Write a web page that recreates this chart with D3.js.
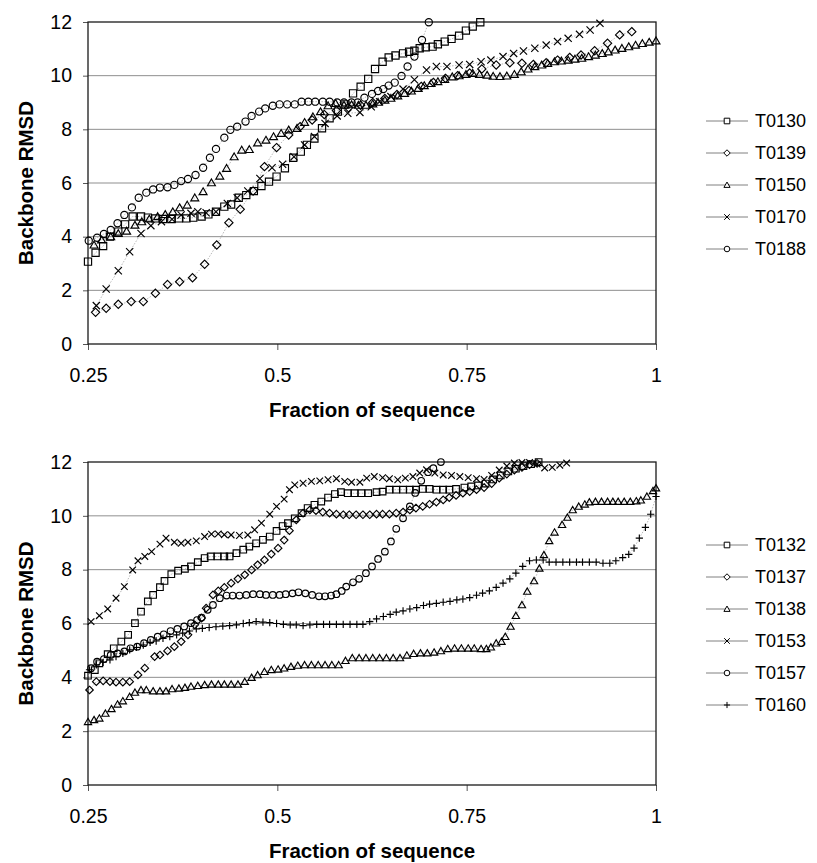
<!DOCTYPE html>
<html lang="en">
<head>
<meta charset="utf-8">
<title>Backbone RMSD</title>
<script src="https://cdn.jsdelivr.net/npm/d3@7"></script>
<style>
  html, body { margin: 0; padding: 0; background: #fff; }
  svg { display: block; font-family: "Liberation Sans", Arial, sans-serif; }
</style>
</head>
<body>
<script>
// tick values
const xTicks = [0.25, 0.5, 0.75, 1];
const xTickLabels = ["0.25", "0.5", "0.75", "1"];
const yTicks = [0, 2, 4, 6, 8, 10, 12];

// ---- top panel series: [fraction of sequence, backbone RMSD]
const t0130 = [[0.250,3.07],[0.260,3.40],[0.270,3.65],[0.279,4.00],[0.290,4.19],[0.299,4.46],[0.309,4.75],[0.320,4.75],[0.329,4.71],[0.339,4.68],[0.349,4.66],[0.360,4.66],[0.370,4.68],[0.380,4.68],[0.389,4.71],[0.400,4.75],[0.409,4.83],[0.419,4.93],[0.430,5.12],[0.439,5.20],[0.449,5.45],[0.459,5.55],[0.469,5.70],[0.479,5.89],[0.489,6.05],[0.499,6.24],[0.510,6.55],[0.521,6.94],[0.531,7.17],[0.539,7.42],[0.549,7.66],[0.559,8.04],[0.569,8.41],[0.580,8.66],[0.590,8.93],[0.600,9.34],[0.610,9.59],[0.620,9.88],[0.629,10.25],[0.639,10.52],[0.647,10.68],[0.656,10.75],[0.666,10.83],[0.674,10.89],[0.681,10.93],[0.688,11.02],[0.696,11.06],[0.705,11.08],[0.712,11.17],[0.721,11.27],[0.730,11.37],[0.740,11.49],[0.749,11.68],[0.758,11.83],[0.768,11.99]];
const t0139 = [[0.260,1.18],[0.274,1.33],[0.290,1.48],[0.307,1.58],[0.323,1.58],[0.339,1.89],[0.355,2.22],[0.371,2.32],[0.388,2.47],[0.404,2.97],[0.420,3.69],[0.436,4.52],[0.451,5.02],[0.468,5.70],[0.483,6.61],[0.499,7.32],[0.515,7.79],[0.530,8.10],[0.546,8.35],[0.562,8.55],[0.578,8.70],[0.594,8.80],[0.610,8.90],[0.626,9.00],[0.642,9.15],[0.658,9.30],[0.674,9.45],[0.690,9.60],[0.706,9.75],[0.722,9.90],[0.738,10.00],[0.754,10.10],[0.770,10.25],[0.789,10.40],[0.807,10.48],[0.823,10.46],[0.838,10.42],[0.855,10.48],[0.870,10.58],[0.886,10.68],[0.901,10.77],[0.919,10.93],[0.936,11.21],[0.952,11.52],[0.968,11.64]];
const t0150 = [[0.258,3.69],[0.268,3.88],[0.280,4.00],[0.290,4.12],[0.301,4.21],[0.312,4.43],[0.321,4.56],[0.331,4.66],[0.342,4.75],[0.352,4.83],[0.362,4.93],[0.371,5.08],[0.381,5.18],[0.391,5.45],[0.402,5.68],[0.413,6.01],[0.424,6.26],[0.433,6.55],[0.443,6.98],[0.453,7.23],[0.463,7.25],[0.474,7.50],[0.485,7.60],[0.495,7.73],[0.505,7.85],[0.515,7.98],[0.526,8.04],[0.536,8.26],[0.547,8.47],[0.557,8.66],[0.567,8.88],[0.577,8.97],[0.588,8.90],[0.598,8.92],[0.607,8.90],[0.617,8.90],[0.626,8.95],[0.633,9.01],[0.642,9.09],[0.650,9.16],[0.659,9.25],[0.668,9.34],[0.677,9.43],[0.686,9.53],[0.694,9.63],[0.703,9.71],[0.712,9.78],[0.721,9.86],[0.731,9.96],[0.740,10.00],[0.749,10.05],[0.758,10.09],[0.767,10.05],[0.777,10.02],[0.785,9.98],[0.794,9.97],[0.803,9.99],[0.813,10.05],[0.822,10.15],[0.831,10.25],[0.840,10.34],[0.849,10.40],[0.857,10.46],[0.866,10.52],[0.875,10.55],[0.884,10.58],[0.893,10.62],[0.902,10.65],[0.911,10.71],[0.920,10.77],[0.929,10.83],[0.937,10.89],[0.946,10.96],[0.955,11.02],[0.964,11.08],[0.973,11.14],[0.982,11.20],[0.991,11.25],[1.000,11.30]];
const t0170 = [[0.261,1.43],[0.274,2.05],[0.290,2.73],[0.305,3.44],[0.320,4.12],[0.333,4.41],[0.347,4.56],[0.361,4.65],[0.373,4.81],[0.386,4.87],[0.395,4.93],[0.406,4.89],[0.419,4.93],[0.434,5.24],[0.447,5.45],[0.461,5.70],[0.477,6.17],[0.493,6.57],[0.507,6.70],[0.522,6.98],[0.536,7.42],[0.549,7.73],[0.563,8.22],[0.579,8.50],[0.593,8.60],[0.609,8.63],[0.624,8.84],[0.635,9.03],[0.650,9.22],[0.666,9.50],[0.681,9.85],[0.697,10.21],[0.710,10.34],[0.724,10.34],[0.740,10.40],[0.754,10.42],[0.769,10.52],[0.782,10.58],[0.798,10.71],[0.812,10.83],[0.825,10.92],[0.840,11.02],[0.855,11.14],[0.870,11.27],[0.884,11.39],[0.899,11.54],[0.913,11.70],[0.926,11.95]];
const t0188 = [[0.251,3.85],[0.262,3.96],[0.271,4.10],[0.280,4.25],[0.289,4.50],[0.298,4.81],[0.308,5.09],[0.317,5.45],[0.327,5.64],[0.336,5.76],[0.345,5.83],[0.355,5.84],[0.364,5.93],[0.373,6.07],[0.382,6.15],[0.392,6.30],[0.402,6.57],[0.411,6.94],[0.419,7.27],[0.430,7.69],[0.438,7.98],[0.447,8.10],[0.458,8.29],[0.466,8.50],[0.476,8.66],[0.484,8.78],[0.494,8.88],[0.503,8.93],[0.513,8.93],[0.523,8.93],[0.532,9.03],[0.541,9.03],[0.550,9.03],[0.560,9.03],[0.569,9.03],[0.579,9.00],[0.588,9.00],[0.598,9.00],[0.606,9.00],[0.615,9.18],[0.625,9.32],[0.633,9.43],[0.640,9.50],[0.647,9.63],[0.655,9.74],[0.664,9.99],[0.672,10.34],[0.681,10.71],[0.691,11.33],[0.700,11.99]];

// ---- bottom panel series
const t0132 = [[0.250,4.06],[0.259,4.27],[0.265,4.52],[0.276,4.86],[0.284,5.08],[0.294,5.33],[0.303,5.58],[0.312,6.01],[0.320,6.44],[0.329,6.82],[0.336,7.06],[0.345,7.35],[0.351,7.58],[0.360,7.83],[0.369,7.96],[0.378,8.03],[0.386,8.12],[0.395,8.28],[0.404,8.43],[0.412,8.49],[0.421,8.49],[0.430,8.49],[0.437,8.49],[0.446,8.61],[0.455,8.74],[0.463,8.86],[0.472,8.98],[0.481,9.11],[0.490,9.23],[0.499,9.44],[0.507,9.62],[0.514,9.73],[0.523,9.91],[0.532,10.10],[0.540,10.29],[0.549,10.41],[0.558,10.53],[0.567,10.68],[0.576,10.81],[0.584,10.88],[0.593,10.84],[0.602,10.84],[0.611,10.84],[0.620,10.84],[0.631,10.88],[0.639,10.90],[0.648,10.97],[0.657,10.97],[0.666,10.97],[0.675,10.97],[0.683,10.97],[0.692,11.00],[0.701,11.00],[0.710,10.97],[0.719,10.97],[0.727,10.97],[0.736,11.00],[0.747,11.05],[0.756,11.09],[0.765,11.13],[0.775,11.20],[0.785,11.35],[0.795,11.50],[0.805,11.65],[0.815,11.75],[0.825,11.85],[0.835,11.92],[0.845,12.00]];
const t0137 = [[0.252,3.53],[0.261,3.84],[0.270,3.87],[0.279,3.84],[0.287,3.82],[0.296,3.82],[0.305,3.84],[0.316,4.09],[0.325,4.34],[0.338,4.77],[0.345,4.83],[0.355,4.98],[0.364,5.14],[0.373,5.33],[0.382,5.58],[0.391,5.95],[0.400,6.20],[0.406,6.57],[0.415,7.06],[0.422,7.21],[0.430,7.34],[0.439,7.50],[0.448,7.66],[0.457,7.81],[0.466,7.99],[0.474,8.18],[0.483,8.36],[0.492,8.58],[0.501,8.80],[0.509,9.10],[0.516,9.45],[0.525,9.85],[0.534,10.10],[0.543,10.22],[0.551,10.19],[0.560,10.14],[0.569,10.10],[0.578,10.06],[0.587,10.04],[0.595,10.04],[0.604,10.04],[0.613,10.04],[0.622,10.04],[0.631,10.06],[0.639,10.06],[0.648,10.06],[0.657,10.10],[0.666,10.14],[0.675,10.22],[0.683,10.29],[0.692,10.35],[0.701,10.43],[0.710,10.51],[0.719,10.59],[0.727,10.68],[0.736,10.76],[0.745,10.84],[0.754,10.90],[0.763,10.97],[0.773,11.05],[0.783,11.20],[0.793,11.40],[0.803,11.55],[0.813,11.70],[0.823,11.80],[0.833,11.90],[0.843,11.95]];
const t0138 = [[0.250,2.35],[0.258,2.42],[0.265,2.48],[0.273,2.66],[0.281,2.83],[0.289,3.00],[0.296,3.12],[0.305,3.28],[0.312,3.44],[0.320,3.53],[0.327,3.53],[0.336,3.49],[0.345,3.49],[0.353,3.49],[0.361,3.57],[0.370,3.59],[0.378,3.62],[0.386,3.66],[0.395,3.69],[0.404,3.72],[0.413,3.74],[0.422,3.74],[0.430,3.74],[0.439,3.74],[0.448,3.74],[0.457,3.84],[0.466,3.99],[0.474,4.09],[0.483,4.21],[0.492,4.28],[0.501,4.30],[0.509,4.34],[0.518,4.40],[0.527,4.44],[0.536,4.46],[0.545,4.46],[0.554,4.46],[0.563,4.46],[0.572,4.46],[0.581,4.46],[0.590,4.62],[0.599,4.72],[0.608,4.72],[0.617,4.72],[0.626,4.72],[0.635,4.72],[0.644,4.72],[0.653,4.72],[0.662,4.72],[0.671,4.82],[0.680,4.88],[0.689,4.90],[0.698,4.90],[0.707,4.93],[0.716,4.98],[0.725,5.06],[0.734,5.08],[0.743,5.08],[0.752,5.08],[0.760,5.08],[0.769,5.06],[0.776,5.06],[0.782,5.12],[0.789,5.27],[0.796,5.33],[0.801,5.51],[0.808,5.89],[0.815,6.29],[0.823,6.69],[0.830,7.19],[0.839,7.58],[0.846,8.05],[0.852,8.55],[0.859,9.07],[0.866,9.39],[0.876,9.67],[0.883,9.94],[0.890,10.22],[0.898,10.35],[0.906,10.43],[0.912,10.51],[0.920,10.53],[0.928,10.53],[0.936,10.53],[0.943,10.53],[0.950,10.53],[0.958,10.53],[0.966,10.53],[0.974,10.55],[0.980,10.58],[0.988,10.72],[0.996,10.93],[1.000,11.03]];
const t0153 = [[0.254,6.07],[0.265,6.29],[0.276,6.54],[0.287,6.94],[0.298,7.37],[0.309,7.99],[0.316,8.33],[0.325,8.49],[0.334,8.67],[0.345,8.95],[0.353,9.17],[0.364,9.02],[0.373,8.98],[0.382,9.02],[0.393,9.07],[0.404,9.23],[0.413,9.32],[0.422,9.33],[0.430,9.30],[0.439,9.29],[0.450,9.27],[0.461,9.29],[0.470,9.48],[0.479,9.73],[0.490,10.06],[0.499,10.35],[0.509,10.62],[0.516,10.97],[0.523,11.15],[0.534,11.21],[0.545,11.28],[0.556,11.30],[0.567,11.34],[0.578,11.38],[0.589,11.28],[0.598,11.25],[0.609,11.25],[0.618,11.40],[0.628,11.46],[0.639,11.42],[0.648,11.38],[0.659,11.34],[0.669,11.40],[0.679,11.46],[0.688,11.59],[0.697,11.71],[0.708,11.59],[0.719,11.52],[0.730,11.50],[0.741,11.46],[0.752,11.42],[0.763,11.38],[0.773,11.35],[0.783,11.50],[0.793,11.70],[0.803,11.85],[0.813,11.96],[0.823,11.98],[0.833,11.98],[0.843,11.92],[0.853,11.78],[0.863,11.80],[0.873,11.88],[0.882,11.96]];
const t0157 = [[0.254,4.34],[0.262,4.58],[0.271,4.68],[0.280,4.83],[0.289,4.89],[0.298,4.96],[0.306,5.08],[0.315,5.14],[0.324,5.27],[0.333,5.39],[0.342,5.51],[0.350,5.60],[0.359,5.72],[0.368,5.80],[0.377,5.89],[0.386,6.01],[0.394,6.13],[0.400,6.22],[0.408,6.51],[0.415,6.69],[0.424,6.94],[0.433,7.04],[0.441,7.04],[0.450,7.04],[0.459,7.06],[0.468,7.09],[0.477,7.09],[0.485,7.06],[0.494,7.06],[0.503,7.06],[0.511,7.09],[0.520,7.12],[0.528,7.16],[0.537,7.12],[0.546,7.06],[0.555,7.01],[0.563,7.01],[0.571,7.04],[0.578,7.09],[0.585,7.21],[0.591,7.37],[0.600,7.53],[0.608,7.66],[0.617,7.87],[0.625,8.12],[0.633,8.40],[0.642,8.67],[0.650,9.05],[0.657,9.52],[0.666,9.91],[0.675,10.35],[0.682,10.85],[0.690,11.30],[0.699,11.62],[0.706,11.77],[0.716,12.00]];
const t0160 = [[0.252,4.28],[0.261,4.46],[0.270,4.56],[0.279,4.65],[0.287,4.77],[0.296,4.89],[0.305,5.02],[0.314,5.11],[0.323,5.20],[0.332,5.30],[0.340,5.35],[0.349,5.45],[0.358,5.51],[0.367,5.58],[0.375,5.64],[0.384,5.72],[0.393,5.80],[0.401,5.82],[0.410,5.85],[0.419,5.88],[0.428,5.90],[0.437,5.92],[0.446,5.95],[0.455,6.00],[0.463,6.03],[0.472,6.07],[0.481,6.05],[0.490,6.03],[0.499,6.00],[0.508,5.97],[0.517,5.95],[0.525,5.95],[0.534,5.92],[0.543,5.95],[0.552,5.97],[0.561,5.97],[0.569,5.97],[0.578,5.97],[0.587,5.97],[0.596,5.97],[0.605,5.97],[0.613,5.97],[0.622,6.07],[0.631,6.17],[0.640,6.26],[0.649,6.34],[0.657,6.42],[0.666,6.47],[0.675,6.54],[0.684,6.59],[0.693,6.67],[0.701,6.72],[0.710,6.75],[0.719,6.79],[0.728,6.82],[0.737,6.88],[0.745,6.91],[0.754,6.96],[0.763,7.05],[0.771,7.13],[0.780,7.21],[0.789,7.34],[0.798,7.50],[0.807,7.66],[0.815,7.87],[0.824,8.12],[0.833,8.33],[0.842,8.36],[0.851,8.36],[0.859,8.28],[0.868,8.28],[0.877,8.28],[0.886,8.28],[0.895,8.28],[0.903,8.28],[0.912,8.28],[0.921,8.28],[0.930,8.24],[0.939,8.24],[0.947,8.33],[0.956,8.45],[0.964,8.57],[0.971,8.80],[0.978,9.17],[0.986,9.57],[0.993,10.06],[1.000,10.72]];

const topNames = ["T0130", "T0139", "T0150", "T0170", "T0188"];
const topSeries = [t0130, t0139, t0150, t0170, t0188];
const topShapes = ["square", "diamond", "triangle", "x", "circle"];

const botNames = ["T0132", "T0137", "T0138", "T0153", "T0157", "T0160"];
const botSeries = [t0132, t0137, t0138, t0153, t0157, t0160];
const botShapes = ["square", "diamond", "triangle", "x", "circle", "plus"];

let w = 817, h = 863;
let svg = d3.select("body").append("svg")
  .attr("width", w).attr("height", h);

let x = d3.scaleLinear([0.25, 1], [88, 656]);

// marker path, s = half size
function shape(kind, s) {
  if (kind == "square") return `M${-s},${-s}h${2*s}v${2*s}h${-2*s}Z`;
  if (kind == "diamond") return `M0,${-s*1.15}L${s*1.15},0L0,${s*1.15}L${-s*1.15},0Z`;
  if (kind == "triangle") return `M0,${-s*1.05}L${s*1.1},${s*0.85}L${-s*1.1},${s*0.85}Z`;
  if (kind == "x") return `M${-s},${-s}L${s},${s}M${-s},${s}L${s},${-s}`;
  if (kind == "plus") return `M${-s*1.1},0H${s*1.1}M0,${-s*1.1}V${s*1.1}`;
  // circle
  return `M${s},0A${s},${s} 0 1,1 ${-s},0A${s},${s} 0 1,1 ${s},0Z`;
}

function panel(id, top, bottom, names, series, shapes, legendTop, ms) {
  let y = d3.scaleLinear([0, 12], [bottom, top]);
  let g = svg.append("g");

  g.append("clipPath").attr("id", "clip" + id)
    .append("rect")
    .attr("x", x(0.25)).attr("y", y(12))
    .attr("width", x(1) - x(0.25)).attr("height", y(0) - y(12));

  // gridlines
  g.append("g").selectAll("line")
    .data(yTicks.filter(d => d > 0 && d < 12))
    .join("line")
    .attr("x1", x(0.25)).attr("x2", x(1))
    .attr("y1", d => y(d)).attr("y2", d => y(d))
    .attr("stroke", "#8f8f8f").attr("stroke-width", 1);

  // y axis
  let ya = g.append("g")
    .attr("transform", `translate(${x(0.25)},0)`)
    .call(d3.axisLeft(y).tickValues(yTicks).tickSize(5).tickPadding(11));
  ya.select(".domain").remove();
  ya.selectAll("line").attr("stroke", "#555");
  ya.selectAll("text").attr("font-size", 19.5).attr("fill", "#000")
    .attr("font-family", "Liberation Sans, Arial, sans-serif");

  // x axis
  let xa = g.append("g")
    .attr("transform", `translate(0,${y(0)})`)
    .call(d3.axisBottom(x).tickValues(xTicks).tickSize(6)
      .tickFormat((d, i) => xTickLabels[i]).tickPadding(18));
  xa.select(".domain").remove();
  xa.selectAll("line").attr("stroke", "#555");
  xa.selectAll("text").attr("font-size", 19.5).attr("fill", "#000")
    .attr("font-family", "Liberation Sans, Arial, sans-serif");

  // frame
  g.append("rect")
    .attr("x", x(0.25)).attr("y", y(12))
    .attr("width", x(1) - x(0.25)).attr("height", y(0) - y(12))
    .attr("fill", "none").attr("stroke", "#1a1a1a").attr("stroke-width", 1.3);

  // axis titles
  g.append("text")
    .attr("transform", `translate(33,${(y(0) + y(12)) / 2}) rotate(-90)`)
    .attr("text-anchor", "middle")
    .attr("font-size", 20.5).attr("font-weight", "bold")
    .text("Backbone RMSD");
  g.append("text")
    .attr("x", (x(0.25) + x(1)) / 2).attr("y", y(0) + 73)
    .attr("text-anchor", "middle")
    .attr("font-size", 20.5).attr("font-weight", "bold")
    .text("Fraction of sequence");

  let line = d3.line().x(d => x(d[0])).y(d => y(d[1]));

  // connecting lines (faint dotted)
  g.append("g").attr("clip-path", `url(#clip${id})`)
    .selectAll("path")
    .data(series)
    .join("path")
    .attr("d", line)
    .attr("fill", "none")
    .attr("stroke", "#9a9a9a").attr("stroke-width", 0.7)
    .attr("stroke-dasharray", "1.5,1.5");

  // markers
  series.forEach((s, i) => {
    g.append("g").selectAll("path")
      .data(s)
      .join("path")
      .attr("transform", d => `translate(${x(d[0])},${y(d[1])})`)
      .attr("d", shape(shapes[i], ms))
      .attr("fill", "none")
      .attr("stroke", "#000").attr("stroke-width", 1.15);
  });

  // legend
  let lg = g.append("g").selectAll("g")
    .data(names)
    .join("g")
    .attr("transform", (d, i) => `translate(0,${legendTop + i * 32})`);
  lg.append("line")
    .attr("x1", 706).attr("x2", 748)
    .attr("stroke", "#808080").attr("stroke-width", 1);
  lg.append("path")
    .attr("transform", "translate(727,0)")
    .attr("d", (d, i) => shape(shapes[i], 2.8))
    .attr("fill", "#fff")
    .attr("stroke", "#000").attr("stroke-width", 1);
  lg.append("text")
    .attr("x", 755).attr("dy", "0.35em")
    .attr("font-size", 18)
    .text(d => d);
}

panel("a", 22, 344, topNames, topSeries, topShapes, 121, 3.6);
panel("b", 462, 785, botNames, botSeries, botShapes, 545, 3.3);
</script>
</body>
</html>
